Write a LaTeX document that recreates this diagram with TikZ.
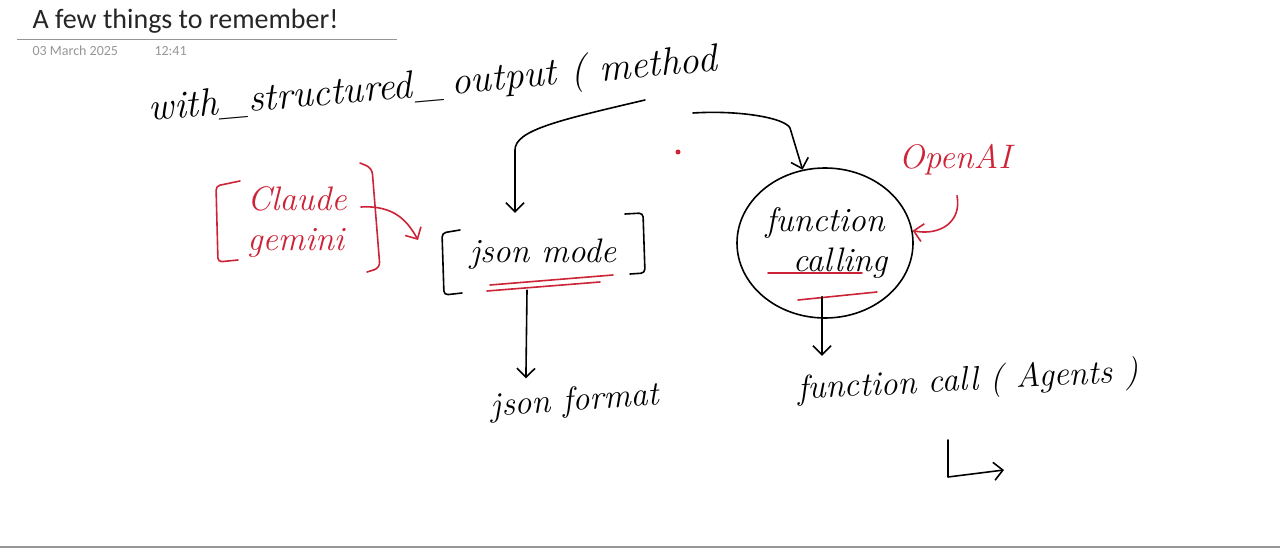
\documentclass[tikz,border=0pt]{standalone}
\usepackage{fontspec}
\usetikzlibrary{shapes.geometric,arrows.meta,calc}
\newfontfamily\notefont{Carlito}
\definecolor{inkred}{RGB}{205,35,55}
\definecolor{notegray}{RGB}{150,150,150}

\begin{document}
\begin{tikzpicture}[x=1pt,y=-1pt,
    ink/.style={line width=1.6pt,line cap=round,line join=round},
    redink/.style={ink,draw=inkred},
    tip/.style={-{Straight Barb[length=9pt,width=18pt]}},
    hand/.style={font=\itshape\fontsize{34}{40}\selectfont,inner sep=0pt},
    redhand/.style={hand,text=inkred,align=left}]

    \useasboundingbox (0,0) rectangle (1280,548);

    \node[font=\notefont\fontsize{28}{32}\selectfont,text=black!85,anchor=base west] (title) at (29,29) {A few things to remember!};
    \node[font=\notefont\fontsize{14}{16}\selectfont,text=notegray,anchor=base west] (date) at (29,56) {03 March 2025};
    \node[font=\notefont\fontsize{14}{16}\selectfont,text=notegray,anchor=base west] (time) at (151,56) {12:41};
    \draw[notegray,line width=1pt] (17,40) -- (397,40);
    \draw[notegray,line width=1.5pt] (0,547) -- (1280,547);

    \node[hand,font=\itshape\fontsize{39}{46}\selectfont,rotate=5] (method) at (433,86) {with\kern2pt\_structured\kern3pt\_\hspace{8pt}output ( method};

    \node[redhand] (models) at (297,222) {Claude\\gemini};
    \draw[redink,rounded corners=4pt] (240,181) -- (216,186) -- (218,262) -- (238,260);
    \draw[redink,rounded corners=6pt] (360,163) -- (372,168) -- (380,268) -- (367,272);

    \node[hand,minimum width=200pt,minimum height=72pt] (jsonmode) at (543,254) {json mode};
    \draw[ink,rounded corners=4pt] (460,230) -- (442,233) -- (444,295) -- (462,293);
    \draw[ink,rounded corners=4pt] (625,214) -- (643,213) -- (645,273) -- (630,274);
    \draw[redink] (490,285) -- (613,275);
    \draw[redink] (487,291) -- (600,282);

    \node[hand,draw,ink,ellipse,minimum width=176pt,minimum height=150pt,align=center] (fcall) at (825,243) {function\\\hspace*{30pt}calling};
    \draw[redink] (768,273) -- (862,273);
    \draw[redink] (798,300) -- (877,292);

    \node[redhand] (openai) at (955,160) {OpenAI};

    \node[hand,rotate=4] (jsonfmt) at (575,402) {json format};
    \node[hand,rotate=3] (agents) at (968,382) {function call ( Agents )};

    \coordinate (split) at (645,100);
    \coordinate (fork) at (693,113);
    \fill[inkred] (678,152) circle (2.5pt);

    \draw[ink,tip] (split) .. controls (560,120) and (515,130) .. (515,150) -- ($(jsonmode.north)+(-28,-5)$);
    \draw[ink,tip] (fork) .. controls (740,110) and (785,118) .. (790,128) -- (fcall.107);
    \draw[redink,tip] (models.east) ++(14,-15) .. controls (395,205) and (408,222) .. (418,240);
    \draw[redink,tip] ($(openai.south)+(2,20)$) .. controls (962,222) and (940,236) .. (fcall.8);
    \draw[ink,tip] ($(jsonmode.south)+(-16,0)$) -- ($(jsonfmt.north)+(-48,-8)$);
    \draw[ink,tip] ($(fcall.south)+(-3,-22)$) -- ($(fcall.south)+(-3,37)$);
    \draw[ink,tip] (948,440) -- (948,477) -- (1004,470);

\end{tikzpicture}
\end{document}
